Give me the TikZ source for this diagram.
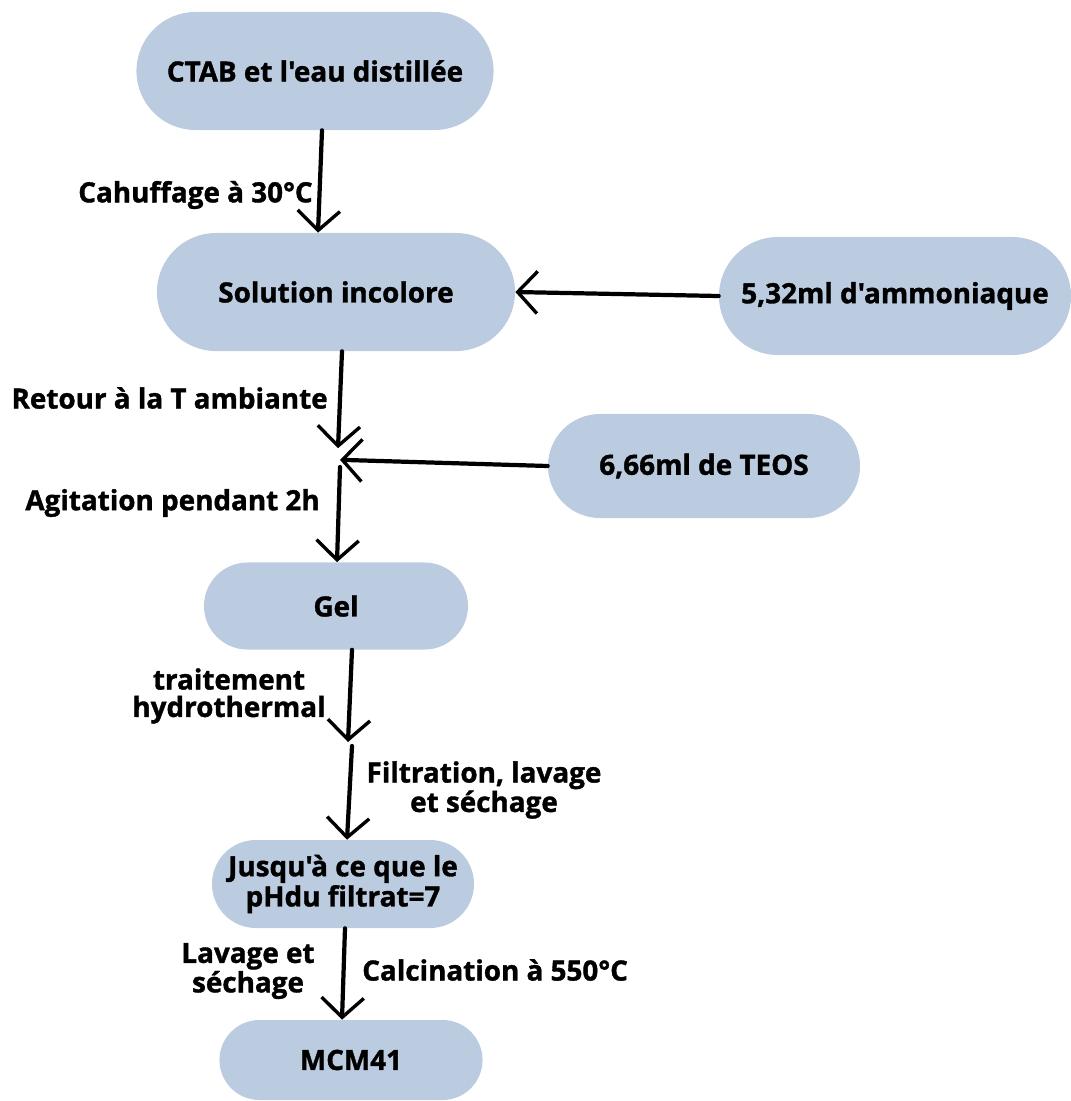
\documentclass[tikz,border=0pt]{standalone}
\usepackage{fontspec}
\newfontfamily\osf{Open Sans}[BoldFeatures={FakeBold=1.3}]
\usetikzlibrary{arrows.meta,shapes.misc}
\definecolor{pill}{RGB}{188,204,224}
\begin{document}
\begin{tikzpicture}[x=0.025cm,y=-0.025cm,
  pillbox/.style={rounded rectangle,fill=pill,draw=none,inner sep=0pt,font=\osf\fontsize{19.8}{21.5}\selectfont\bfseries,align=center},
  lbl/.style={font=\osf\fontsize{19.8}{19.5}\selectfont\bfseries,align=center,inner sep=0pt},
  flow/.style={line width=3pt,line cap=round,-{Straight Barb[length=14pt,width=30pt,line width=2.4pt]}}]
\useasboundingbox (0,0) rectangle (1071,1101);
\node[pillbox,minimum width=8.925cm,minimum height=2.95cm] (n1) at (315,71) {CTAB et l'eau distillée};
\node[pillbox,minimum width=8.95cm,minimum height=2.95cm] (n2) at (336,292) {Solution incolore};
\node[pillbox,minimum width=8.8cm,minimum height=2.95cm] (n3) at (895,296) {5,32ml d'ammoniaque};
\node[pillbox,minimum width=7.8cm,minimum height=2.6cm] (n4) at (704,466) {6,66ml de TEOS};
\node[pillbox,minimum width=6.6cm,minimum height=2.175cm] (n5) at (336,606) {Gel};
\node[pillbox,minimum width=6.55cm,minimum height=2.2cm] (n6) at (343,884) {Jusqu'à ce que le\\pHdu filtrat=7};
\node[pillbox,minimum width=6.575cm,minimum height=2.0cm] (n7) at (351,1060) {MCM41};
\coordinate (j) at (338,455);
\coordinate (m) at (350,744);
\draw[flow] ([xshift=0.175cm]n1.south) -- ([xshift=-0.45cm]n2.north);
\draw[flow] (n3.west) -- (n2.east);
\draw[flow] ([xshift=0.15cm]n2.south) -- ([yshift=0.17cm]j);
\draw[flow] (n4.west) -- ([xshift=0.05cm,yshift=-0.12cm]j);
\draw[flow] ([xshift=0.05cm,yshift=-0.3cm]j) -- ([xshift=0.025cm]n5.north);
\draw[flow] ([xshift=0.4cm]n5.south) -- ([xshift=-0.05cm,yshift=0.05cm]m);
\draw[flow] ([xshift=0.05cm,yshift=-0.05cm]m) -- ([xshift=0.1cm]n6.north);
\draw[flow] ([xshift=0.05cm]n6.south) -- ([xshift=-0.225cm]n7.north);
\node[lbl,anchor=east] (l1) at (313,195) {Cahuffage à 30°C};
\node[lbl,anchor=east] (l2) at (328,398) {Retour à la T ambiante};
\node[lbl,anchor=east] (l3) at (320,503) {Agitation pendant 2h};
\node[lbl] (l4) at (229,696) {traitement\\hydrothermal};
\node[lbl] (l5) at (484,790) {Filtration, lavage\\et séchage};
\node[lbl] (l6) at (248,971) {Lavage et\\séchage};
\node[lbl,anchor=west] (l7) at (362,970) {Calcination à 550°C};
\end{tikzpicture}
\end{document}
